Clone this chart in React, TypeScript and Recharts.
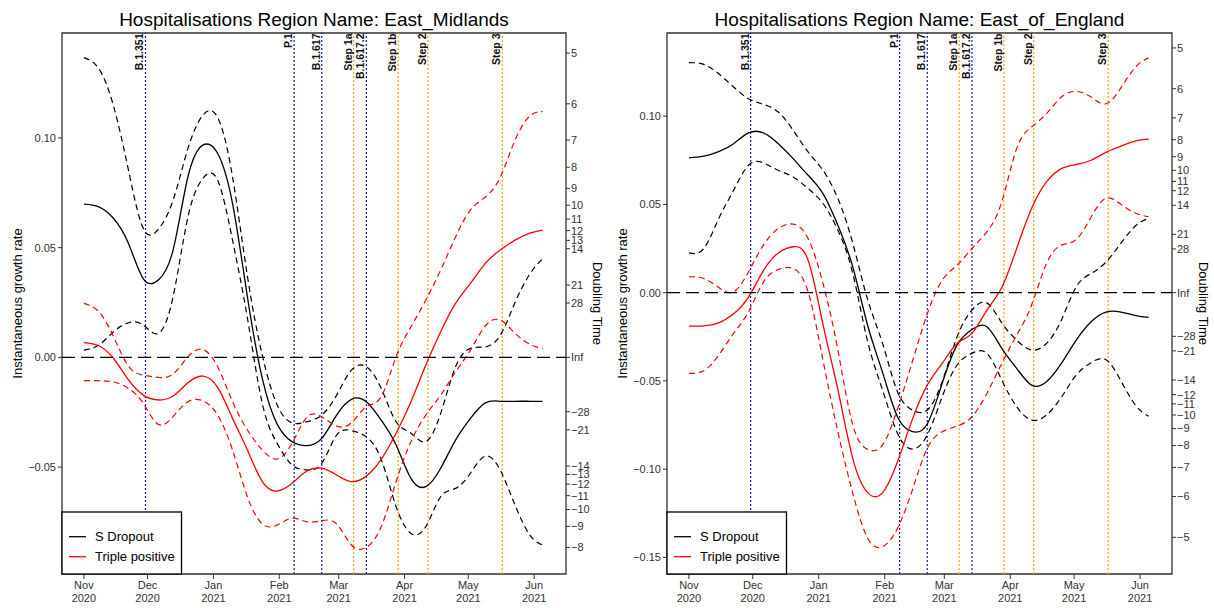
import React from "react";
import { LineChart, Line, XAxis, YAxis, ReferenceLine, ReferenceArea } from "recharts";

const FONT = '"Liberation Sans", Arial, Helvetica, sans-serif';

// days since 1 Nov 2020
const days = [0, 7, 14, 21, 28, 35, 42, 49, 56, 63, 70, 77, 84, 91, 98, 105, 112, 119, 126, 133, 140, 147, 154, 161, 168, 175, 182, 189, 196, 203, 210, 216];

const monthTicks = [0, 30, 61, 92, 120, 151, 181, 212];
const monthLabels = ["Nov", "Dec", "Jan", "Feb", "Mar", "Apr", "May", "Jun"];
const yearLabels = ["2020", "2020", "2021", "2021", "2021", "2021", "2021", "2021"];

const markerDays = [29, 99, 112, 127, 133, 148, 162, 197];
const markerNames = ["B.1.351", "P.1", "B.1.617", "Step 1a", "B.1.617.2", "Step 1b", "Step 2", "Step 3"];
const markerIsStep = [false, false, false, true, false, true, true, true];

// East Midlands
const emDrop = [0.0698, 0.0686, 0.0633, 0.0519, 0.0358, 0.0352, 0.0489, 0.0823, 0.0967, 0.0929, 0.0701, 0.0276, -0.0096, -0.0304, -0.0384, -0.0402, -0.0369, -0.0263, -0.0191, -0.0202, -0.0286, -0.0399, -0.0551, -0.0589, -0.0505, -0.0377, -0.0278, -0.0207, -0.02, -0.02, -0.02, -0.02];
const emDropHi = [0.1366, 0.1316, 0.1144, 0.0853, 0.0587, 0.0583, 0.0716, 0.0952, 0.1103, 0.1093, 0.0822, 0.037, 0.001, -0.0217, -0.0298, -0.0293, -0.0263, -0.0172, -0.0058, -0.0043, -0.0141, -0.0293, -0.0346, -0.0384, -0.0255, -0.0043, 0.0041, 0.0048, 0.01, 0.025, 0.038, 0.045];
const emDropLo = [0.0033, 0.0056, 0.0117, 0.0158, 0.0147, 0.0109, 0.0276, 0.064, 0.0815, 0.0807, 0.0534, 0.018, -0.021, -0.0392, -0.049, -0.0513, -0.0483, -0.0354, -0.0334, -0.0362, -0.0465, -0.068, -0.0802, -0.0771, -0.0635, -0.0597, -0.0528, -0.045, -0.0513, -0.0673, -0.081, -0.0855];
const emTrip = [0.0067, 0.0053, -0.0005, -0.0103, -0.0172, -0.0194, -0.0176, -0.0116, -0.0085, -0.0137, -0.0278, -0.0422, -0.0566, -0.0609, -0.0574, -0.0518, -0.0505, -0.0536, -0.0566, -0.0541, -0.0465, -0.0346, -0.0202, -0.0035, 0.0117, 0.0246, 0.0337, 0.0428, 0.0489, 0.0534, 0.0566, 0.058];
const emTripHi = [0.0246, 0.0208, 0.0094, -0.004, -0.0081, -0.0091, -0.0076, 0.0003, 0.0036, -0.0043, -0.0202, -0.0331, -0.0422, -0.0463, -0.0392, -0.0273, -0.027, -0.0313, -0.0298, -0.0225, -0.0179, 0.0003, 0.0139, 0.0261, 0.0398, 0.0549, 0.0671, 0.0731, 0.082, 0.099, 0.11, 0.112];
const emTripLo = [-0.0106, -0.0106, -0.0112, -0.0141, -0.021, -0.0305, -0.027, -0.0202, -0.0198, -0.0263, -0.0422, -0.0635, -0.0759, -0.0764, -0.0733, -0.0749, -0.0744, -0.0759, -0.0855, -0.0865, -0.0771, -0.0566, -0.0384, -0.0263, -0.0172, -0.0066, 0.0033, 0.0143, 0.017, 0.011, 0.006, 0.004];

// East of England
const eeDrop = [0.0763, 0.0773, 0.0799, 0.0844, 0.0905, 0.0905, 0.0844, 0.0759, 0.0665, 0.0561, 0.0382, 0.0146, -0.0186, -0.0452, -0.0703, -0.0788, -0.0744, -0.0514, -0.0297, -0.0209, -0.0193, -0.0316, -0.0429, -0.0524, -0.0505, -0.0401, -0.0269, -0.0165, -0.011, -0.011, -0.013, -0.014];
const eeDropHi = [0.1303, 0.1293, 0.124, 0.1165, 0.1099, 0.1067, 0.1023, 0.092, 0.0797, 0.0693, 0.0533, 0.028, -0.004, -0.0288, -0.0561, -0.0665, -0.0665, -0.0505, -0.025, -0.0099, -0.0058, -0.0171, -0.0269, -0.0325, -0.0288, -0.0156, 0.0033, 0.0109, 0.0173, 0.028, 0.038, 0.042];
const eeDropLo = [0.0225, 0.025, 0.042, 0.058, 0.0722, 0.0735, 0.0693, 0.0655, 0.059, 0.0505, 0.0354, 0.0109, -0.0278, -0.0552, -0.0797, -0.0886, -0.0807, -0.059, -0.041, -0.0344, -0.0344, -0.0495, -0.0646, -0.0722, -0.0693, -0.0593, -0.0467, -0.0397, -0.038, -0.05, -0.064, -0.07];
const eeTrip = [-0.019, -0.0188, -0.0171, -0.012, -0.0025, 0.0125, 0.0225, 0.026, 0.0184, -0.018, -0.055, -0.094, -0.1133, -0.1133, -0.0958, -0.0718, -0.0524, -0.0401, -0.0288, -0.0231, -0.0099, 0.0029, 0.025, 0.0477, 0.0627, 0.0703, 0.0726, 0.075, 0.0795, 0.083, 0.086, 0.087];
const eeTripHi = [0.009, 0.008, 0.0029, 0.0005, 0.0118, 0.0269, 0.0363, 0.0388, 0.0307, 0.0052, -0.0325, -0.075, -0.0888, -0.0863, -0.066, -0.0391, -0.012, 0.007, 0.0156, 0.025, 0.0344, 0.0514, 0.0816, 0.0939, 0.1014, 0.1108, 0.114, 0.1108, 0.107, 0.116, 0.128, 0.133];
const eeTripLo = [-0.0457, -0.0443, -0.0354, -0.0231, -0.0108, 0.006, 0.0131, 0.0137, 0.0005, -0.0382, -0.0788, -0.1137, -0.1391, -0.1439, -0.1335, -0.1118, -0.0882, -0.0788, -0.0756, -0.0703, -0.0571, -0.0401, -0.0241, -0.0071, 0.0165, 0.0269, 0.0301, 0.0429, 0.0534, 0.05, 0.045, 0.043];

const emGrowthTicks = [-0.05, 0, 0.05, 0.1];
const eeGrowthTicks = [-0.15, -0.1, -0.05, 0, 0.05, 0.1];
const emDoubling = [5, 6, 7, 8, 9, 10, 11, 12, 13, 14, 21, 28, Infinity, -28, -21, -14, -13, -12, -11, -10, -9, -8];
const eeDoubling = [5, 6, 7, 8, 9, 10, 11, 12, 14, 21, 28, Infinity, -28, -21, -14, -12, -11, -10, -9, -8, -7, -6, -5];

const X_DOMAIN: [number, number] = [-10.3, 227];

const minus = (s: string) => s.replace("-", "\u2212");

const buildRows = (a: number[], b: number[], c: number[], d: number[], e: number[], f: number[]) =>
  days.map((day, i) => ({ day, drop: a[i], dropHi: b[i], dropLo: c[i], trip: d[i], tripHi: e[i], tripLo: f[i] }));

const MonthTick = (props: any) => {
  const { x, y, payload } = props;
  const i = monthTicks.indexOf(payload.value);
  return (
    <text x={x} y={y} textAnchor="middle" fontSize={11} fill="#333" fontFamily={FONT}>
      <tspan x={x} dy="0.75em">{monthLabels[i]}</tspan>
      <tspan x={x} dy="1.15em">{yearLabels[i]}</tspan>
    </text>
  );
};

const markerLabel = (name: string) => (props: any) => {
  const vb = props.viewBox || {};
  const x = (vb.x ?? 0) - 2;
  const y = (vb.y ?? 0) + 0.5;
  return (
    <text x={x} y={y} transform={`rotate(-90 ${x} ${y})`} textAnchor="end" fontSize={10.5} fontWeight="bold" fill="#111" fontFamily={FONT}>
      {name}
    </text>
  );
};

interface PanelProps {
  title: string;
  rows: any[];
  yDomain: [number, number];
  growthTicks: number[];
  doubling: number[];
  leftW: number;
  rightW: number;
}

const W = 607;
const H = 608;
const TOP = 33;
const XH = 34;

function Panel({ title, rows, yDomain, growthTicks, doubling, leftW, rightW }: PanelProps) {
  const dtPos = doubling.map((t) => Math.LN2 / t);
  const dtLabel = (v: number) => {
    const i = dtPos.findIndex((p) => Math.abs(p - v) < 1e-9);
    const t = doubling[i];
    if (t === Infinity) return "Inf";
    return minus(String(t));
  };
  const plotL = leftW;
  const plotR = W - rightW;
  const plotB = H - XH;
  const cx = (plotL + plotR) / 2;
  const cy = (TOP + plotB) / 2;
  const dash = "6 4";

  return (
    <div style={{ position: "relative", width: W, height: H }}>
      <LineChart width={W} height={H} data={rows} margin={{ top: TOP, right: 0, bottom: 0, left: 0 }}>
        <XAxis
          dataKey="day"
          type="number"
          domain={X_DOMAIN}
          allowDataOverflow
          ticks={monthTicks}
          interval={0}
          height={XH}
          tick={<MonthTick />}
          tickSize={5}
          tickMargin={2}
          axisLine={false}
          tickLine={{ stroke: "#333" }}
        />
        <YAxis
          type="number"
          domain={yDomain}
          allowDataOverflow
          ticks={growthTicks}
          interval={0}
          width={leftW}
          tickSize={4}
          tickMargin={2}
          axisLine={false}
          tickLine={{ stroke: "#333" }}
          tick={{ fontSize: 11, fill: "#333", fontFamily: FONT }}
          tickFormatter={(v: number) => minus(v.toFixed(2))}
        />
        <YAxis
          yAxisId="dt"
          orientation="right"
          type="number"
          domain={yDomain}
          allowDataOverflow
          ticks={dtPos}
          interval={0}
          width={rightW}
          tickSize={4}
          tickMargin={1}
          axisLine={false}
          tickLine={{ stroke: "#333" }}
          tick={{ fontSize: 11, fill: "#333", fontFamily: FONT }}
          tickFormatter={dtLabel}
        />
        <ReferenceArea
          x1={X_DOMAIN[0]}
          x2={X_DOMAIN[1]}
          y1={yDomain[0]}
          y2={yDomain[1]}
          fill="none"
          stroke="#333"
          strokeWidth={1.3}
          ifOverflow="visible"
        />
        {markerDays.map((d, i) => (
          <ReferenceLine
            key={markerNames[i]}
            x={d}
            stroke={markerIsStep[i] ? "#FFA500" : "#1a1a9a"}
            strokeWidth={1.2}
            strokeDasharray="2 2"
            label={markerLabel(markerNames[i])}
          />
        ))}
        <Line type="natural" dataKey="dropHi" stroke="#000" strokeWidth={1.2} strokeDasharray={dash} dot={false} isAnimationActive={false} />
        <Line type="natural" dataKey="dropLo" stroke="#000" strokeWidth={1.2} strokeDasharray={dash} dot={false} isAnimationActive={false} />
        <Line type="natural" dataKey="drop" stroke="#000" strokeWidth={1.3} dot={false} isAnimationActive={false} />
        <Line type="natural" dataKey="tripHi" stroke="#ff0000" strokeWidth={1.2} strokeDasharray={dash} dot={false} isAnimationActive={false} />
        <Line type="natural" dataKey="tripLo" stroke="#ff0000" strokeWidth={1.2} strokeDasharray={dash} dot={false} isAnimationActive={false} />
        <Line type="natural" dataKey="trip" stroke="#ff0000" strokeWidth={1.3} dot={false} isAnimationActive={false} />
        <ReferenceLine y={0} stroke="#000" strokeWidth={1.3} strokeDasharray="13 6" />
      </LineChart>
      <svg width={W} height={H} style={{ position: "absolute", left: 0, top: 0, pointerEvents: "none" }} fontFamily={FONT}>
        <text x={cx} y={26} textAnchor="middle" fontSize={19} fill="#000">{title}</text>
        <text transform={`translate(${plotL - 45}, ${cy}) rotate(-90)`} textAnchor="middle" dominantBaseline="central" fontSize={13} fill="#000">
          Instantaneous growth rate
        </text>
        <text transform={`translate(${plotR + 31}, ${cy}) rotate(90)`} textAnchor="middle" dominantBaseline="central" fontSize={13} fill="#000">
          Doubling Time
        </text>
        <g>
          <rect x={plotL} y={512} width={119.5} height={plotB - 512} fill="#fff" stroke="#000" strokeWidth={1.3} />
          <line x1={plotL + 7} x2={plotL + 24} y1={536.7} y2={536.7} stroke="#000" strokeWidth={1.3} />
          <text x={plotL + 33} y={536.7} dominantBaseline="central" fontSize={13} fill="#000">S Dropout</text>
          <line x1={plotL + 7} x2={plotL + 24} y1={556.7} y2={556.7} stroke="#ff0000" strokeWidth={1.3} />
          <text x={plotL + 33} y={556.7} dominantBaseline="central" fontSize={13} fill="#000">Triple positive</text>
        </g>
      </svg>
    </div>
  );
}

export default function App() {
  const emRows = buildRows(emDrop, emDropHi, emDropLo, emTrip, emTripHi, emTripLo);
  const eeRows = buildRows(eeDrop, eeDropHi, eeDropLo, eeTrip, eeTripHi, eeTripLo);
  return (
    <div style={{ position: "absolute", left: 0, top: 0, width: 1214, height: 608, background: "#fff", fontFamily: FONT }}>
      <div style={{ position: "absolute", left: 0, top: 0 }}>
        <Panel
          title="Hospitalisations Region Name: East_Midlands"
          rows={emRows}
          yDomain={[-0.0987, 0.1478]}
          growthTicks={emGrowthTicks}
          doubling={emDoubling}
          leftW={62}
          rightW={41}
        />
      </div>
      <div style={{ position: "absolute", left: 607, top: 0 }}>
        <Panel
          title="Hospitalisations Region Name: East_of_England"
          rows={eeRows}
          yDomain={[-0.1594, 0.1471]}
          growthTicks={eeGrowthTicks}
          doubling={eeDoubling}
          leftW={60}
          rightW={42}
        />
      </div>
    </div>
  );
}
